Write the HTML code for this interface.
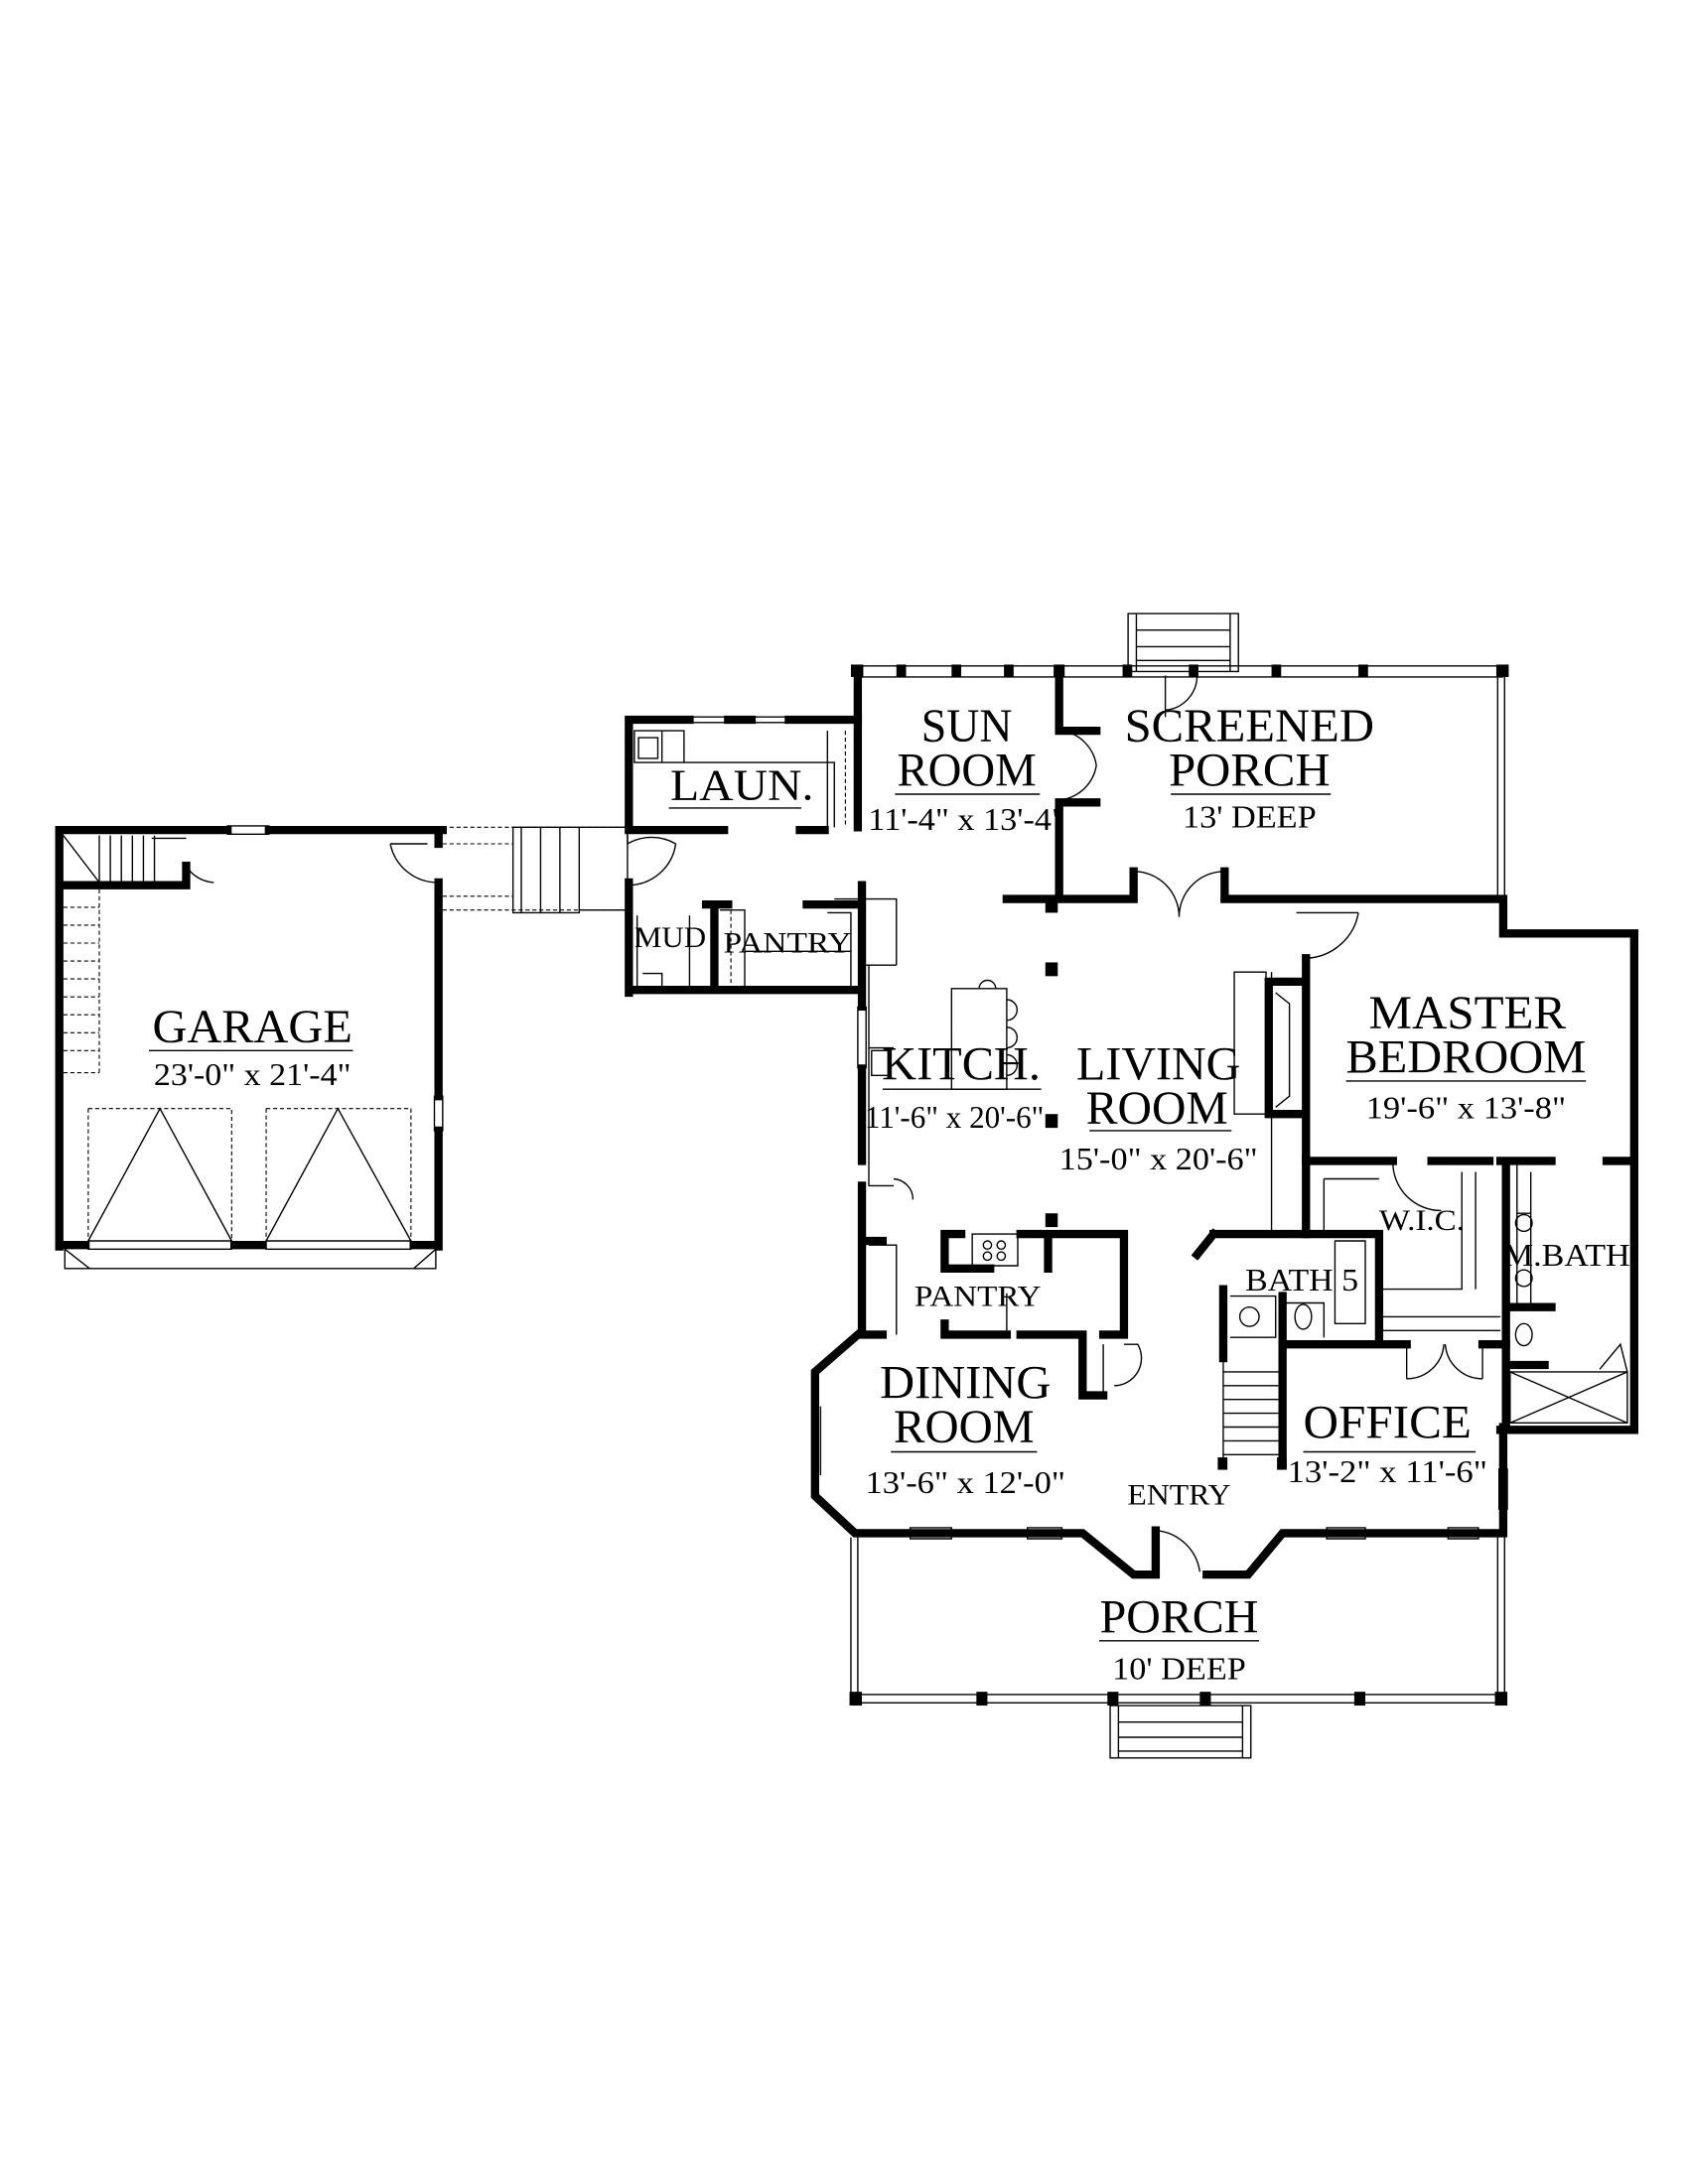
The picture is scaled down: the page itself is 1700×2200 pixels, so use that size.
<!DOCTYPE html>
<html><head><meta charset="utf-8"><style>
html,body{margin:0;padding:0;background:#fff}
svg{display:block}
text{font-family:"Liberation Serif",serif;fill:#000;text-anchor:middle}
.w{stroke:#000;stroke-width:6;fill:none;stroke-linecap:square}
.t{stroke:#000;stroke-width:1;fill:none}
.d{stroke:#000;stroke-width:.8;fill:none;stroke-dasharray:3 2}
.L{font-size:34px}.S{font-size:23px}.X{font-size:21px}
</style></head><body>
<svg width="1700" height="2200" viewBox="0 0 1224 1584" xmlns="http://www.w3.org/2000/svg">
<rect width="1224" height="1584" fill="#fff"/>

<!-- GARAGE -->
<path class="w" d="M43 602 H165 M195 602 H321 M43 602 V904 M43 903 H62 M170 903 H190 M300 903 H318 M318 640 V795 M318 820 V904 M318 602 V612"/>
<path class="t" d="M64 900 H168 V906 H64 Z M193 900 H298 V906 H193 Z M165 599 H195 V605 H165 Z M315 795 H321 V820 H315 Z"/>
<path class="w" d="M46 642 H135 M135 628 V642"/>
<path class="t" d="M46 606 L72 640 M72 606 V640 M80 606 V640 M88 606 V640 M96 606 V640 M104 606 V640 M112 606 V640"/>
<path class="d" d="M72 645 V780 M46 658 H72 M46 671 H72 M46 684 H72 M46 697 H72 M46 710 H72 M46 723 H72 M46 736 H72 M46 749 H72 M46 762 H72 M46 778 H72"/>
<path class="t" d="M135 628 A25 25 0 0 0 155 640 M110 608 H135 M283 612 H310 M283 612 A35 35 0 0 0 318 640"/>
<path class="d" d="M64 804 H168 V900 M64 804 V900 M193 804 H298 V900 M193 804 V900"/>
<path class="t" d="M64 900 L116 804 L168 900 M193 900 L245 804 L298 900 M47 906 L65 920 H300 L316 906 M47 906 V920 H316 V906"/>
<line x1="108" y1="762" x2="256" y2="762" stroke="#000" stroke-width="1"/>
<text x="183" y="756" class="L" textLength="145" lengthAdjust="spacingAndGlyphs">GARAGE</text>
<text x="183" y="787" class="S" textLength="143" lengthAdjust="spacingAndGlyphs">23'-0" x 21'-4"</text>

<!-- BREEZEWAY -->
<path class="d" d="M321 600 H455 M321 612 H372 M321 660 H455 M321 650 H372"/>
<path class="t" d="M372 600 H420 V662 H372 Z M378 600 V662 M392 600 V662 M406 600 V662 M420 600 H455 V660 H420"/>

<!-- LAUNDRY / MUD / PANTRY -->
<path class="w" d="M456 522 V600 M456 522 H500 M528 522 H545 M572 522 H622 M456 602 H525 M580 602 H598 M456 640 V720 M456 718 H622 M512 656 H528 M585 656 H622 M518 656 V718"/>
<path class="t" d="M500 520 H528 V524 H500 Z M545 520 H572 V524 H545 Z M460 530 H480 V553 H460 Z M463 535 H477 V550 H463 Z M480 530 H496 V553 H480 M460 553 H605 V600 M600 530 V600 M455 600 L455 612 M455 612 A35 35 0 0 1 490 612 M490 612 A35 35 0 0 1 455 642 M462 664 V718 H500 V664 M522 660 H540 V718 M540 690 H617 M600 662 H617 V718 M466 706 H480 V716"/>
<path class="d" d="M530 660 V718 M613 530 V600"/>
<line x1="485" y1="586" x2="581" y2="586" stroke="#000" stroke-width="1"/>
<text x="538" y="580" class="L" style="font-size:32px" textLength="104" lengthAdjust="spacingAndGlyphs">LAUN.</text>
<text x="486" y="687" class="X" textLength="52" lengthAdjust="spacingAndGlyphs">MUD</text>
<text x="571" y="691" class="X" textLength="93" lengthAdjust="spacingAndGlyphs">PANTRY</text>

<!-- TOP STAIRS -->
<path class="t" d="M818 445 H898 V487 H818 Z M824 445 V487 M892 445 V487 M824 457 H892 M824 469 H892 M824 479 H892"/>

<!-- SUN ROOM / SCREENED PORCH -->
<path class="t" d="M620 483 H1090 M620 491 H1090 M1086 491 V652 M1091 491 V652"/>
<path class="w" d="M622 485 V600 M768 488 V530 H795 M768 582 H795 M768 582 V650 M730 652 H822 M822 652 V632 M888 652 V632 M888 652 H1090 M1090 652 V677 H1185 V1035 M947 695 V840 M947 842 H1010 M1038 842 H1080"/>
<g fill="#000">
<rect x="617" y="482" width="9" height="9"/><rect x="650" y="482" width="7" height="9"/><rect x="690" y="482" width="7" height="9"/><rect x="728" y="482" width="7" height="9"/><rect x="764" y="482" width="8" height="9"/><rect x="814" y="482" width="7" height="9"/><rect x="862" y="482" width="7" height="9"/><rect x="922" y="482" width="7" height="9"/><rect x="985" y="482" width="7" height="9"/><rect x="1085" y="482" width="9" height="9"/>
<rect x="758" y="651" width="9" height="11"/><rect x="758" y="698" width="9" height="10"/><rect x="758" y="808" width="9" height="10"/><rect x="758" y="880" width="9" height="10"/>
</g>
<path class="t" d="M770 530 A30 30 0 0 1 795 555 M795 555 A30 30 0 0 1 770 580 M822 632 A33 33 0 0 1 855 665 M888 632 A33 33 0 0 0 855 665 M868 490 A25 25 0 0 1 845 515 M845 490 V520 M940 662 H985 M985 662 A40 40 0 0 1 947 695"/>
<path class="t" d="M785 650 H815 V654 H785 M895 650 H928 V654 H895 M1010 650 H1040 V654 H1010"/>
<line x1="649" y1="576" x2="754" y2="576" stroke="#000" stroke-width="1"/>
<line x1="849" y1="576" x2="965" y2="576" stroke="#000" stroke-width="1"/>
<text x="701" y="538" class="L" textLength="66" lengthAdjust="spacingAndGlyphs">SUN</text>
<text x="701" y="570" class="L" textLength="101" lengthAdjust="spacingAndGlyphs">ROOM</text>
<text x="701" y="602" class="S" textLength="143" lengthAdjust="spacingAndGlyphs">11'-4" x 13'-4"</text>
<text x="906" y="538" class="L" textLength="181" lengthAdjust="spacingAndGlyphs">SCREENED</text>
<text x="906" y="570" class="L" textLength="117" lengthAdjust="spacingAndGlyphs">PORCH</text>
<text x="906" y="600" class="S" textLength="97" lengthAdjust="spacingAndGlyphs">13' DEEP</text>

<!-- KITCHEN -->
<path class="w" d="M625 642 V730 M625 775 V842 M625 860 V968 M625 900 H640 M625 968 H640"/>
<path class="t" d="M605 652 H650 V700 M628 700 H650 M628 730 V775 M622 730 V775 M630 700 V860 H648 M630 760 H648 M630 790 V860 M648 855 A15 15 0 0 1 662 870 M630 903 H650 V968"/>
<path class="t" d="M690 717 H730 V790 H690 Z M710 717 A6 6 0 0 1 722 717 M730 725 A6 6 0 0 1 730 740 M730 745 A6 6 0 0 1 730 760 M730 765 A6 6 0 0 1 730 780 M632 762 H645 V780 H632 Z"/>
<line x1="640" y1="790" x2="755" y2="790" stroke="#000" stroke-width="1"/>
<text x="697" y="783" class="L" textLength="115" lengthAdjust="spacingAndGlyphs">KITCH.</text>
<text x="692" y="818" class="S" textLength="130" lengthAdjust="spacingAndGlyphs">11'-6" x 20'-6"</text>

<!-- LIVING -->
<path class="t" d="M895 705 H918 V808 H895 Z M922 705 V895"/>
<path class="w" d="M920 712 H945 M920 712 V808 H945"/>
<path class="t" d="M925 720 L935 728 V795 L925 803"/>
<line x1="790" y1="820" x2="893" y2="820" stroke="#000" stroke-width="1"/>
<text x="840" y="783" class="L" textLength="119" lengthAdjust="spacingAndGlyphs">LIVING</text>
<text x="839" y="815" class="L" textLength="103" lengthAdjust="spacingAndGlyphs">ROOM</text>
<text x="840" y="848" class="S" textLength="144" lengthAdjust="spacingAndGlyphs">15'-0" x 20'-6"</text>

<!-- MASTER -->
<path class="t" d="M1183 690 V740 M1187 690 V740 M1183 805 V840 M1187 805 V840 M1183 900 V950 M1187 900 V950 M1100 675 H1120 V679 H1100"/>
<line x1="976" y1="784" x2="1150" y2="784" stroke="#000" stroke-width="1"/>
<text x="1064" y="746" class="L" textLength="143" lengthAdjust="spacingAndGlyphs">MASTER</text>
<text x="1063" y="778" class="L" textLength="174" lengthAdjust="spacingAndGlyphs">BEDROOM</text>
<text x="1063" y="811" class="S" textLength="145" lengthAdjust="spacingAndGlyphs">19'-6" x 13'-8"</text>

<!-- WIC / MBATH -->
<path class="w" d="M947 840 V895 M1088 842 H1125 M1092 842 V1035 M1092 948 H1125 M1092 990 H1120 M1088 1037 H1185 M1165 842 H1185"/>
<path class="t" d="M1010 842 A35 35 0 0 0 1045 878 M1060 850 V935 H1000 M1070 850 V935 M960 855 H1000 M960 855 V895 M1100 845 V948 M1110 850 V948 M1100 880 H1110"/>
<circle cx="1105" cy="887" r="6" class="t"/><circle cx="1105" cy="927" r="6" class="t"/>
<ellipse cx="1105" cy="968" rx="6" ry="8" class="t"/>
<path class="t" d="M1095 995 H1180 V1032 H1095 Z M1095 995 L1180 1032 M1180 995 L1095 1032 M1160 993 L1175 975 L1180 995"/>
<text x="1031" y="892" class="X" textLength="62" lengthAdjust="spacingAndGlyphs">W.I.C.</text>
<text x="1136" y="918" class="X" style="font-size:23px" textLength="92" lengthAdjust="spacingAndGlyphs">M.BATH</text>

<!-- BATH 5 / STAIRS / OFFICE -->
<path class="w" d="M880 895 H1000 M1000 895 V975 M880 895 L868 910 M887 935 V985 M930 940 V1062 M930 975 H1020 M1075 975 H1092"/>
<path class="t" d="M968 900 H990 V960 H968 Z M892 940 H925 V970 H892 M930 945 H960 V970 M1020 975 V1000 M1075 975 V1000 M1020 1000 A27 27 0 0 0 1047 975 M1075 1000 A27 27 0 0 1 1048 975 M1000 955 H1088 M1000 965 H1088"/>
<ellipse cx="906" cy="955" rx="7" ry="7" class="t"/><ellipse cx="945" cy="955" rx="6" ry="9" class="t"/>
<path class="t" d="M887 985 V1065 M928 985 V1065 M887 995 H928 M887 1005 H928 M887 1015 H928 M887 1025 H928 M887 1035 H928 M887 1045 H928 M887 1055 H928"/>
<rect x="883" y="1057" width="7" height="9" fill="#000"/><rect x="926" y="1057" width="7" height="9" fill="#000"/>
<text x="944" y="936" class="X" style="font-size:23px" textLength="82" lengthAdjust="spacingAndGlyphs">BATH 5</text>
<line x1="945" y1="1053" x2="1070" y2="1053" stroke="#000" stroke-width="1"/>
<text x="1006" y="1043" class="L" textLength="122" lengthAdjust="spacingAndGlyphs">OFFICE</text>
<text x="1006" y="1075" class="S" textLength="145" lengthAdjust="spacingAndGlyphs">13'-2" x 11'-6"</text>

<!-- KITCHEN PANTRY -->
<path class="w" d="M685 895 V920 H718 M760 895 V920 M685 895 H697 M740 895 H815 V968 M685 960 V968 H730 M740 968 H785 M785 968 V1012 H800 M800 968 H815"/>
<path class="t" d="M705 895 H738 V918 H705 Z M730 938 V965 M800 975 V1010 M815 975 H825 A20 20 0 0 1 808 1005"/>
<circle cx="716" cy="903" r="3" class="t"/><circle cx="726" cy="903" r="3" class="t"/><circle cx="716" cy="911" r="3" class="t"/><circle cx="726" cy="911" r="3" class="t"/>
<text x="709" y="947" class="X" textLength="92" lengthAdjust="spacingAndGlyphs">PANTRY</text>

<!-- DINING / ENTRY WALLS -->
<path class="w" d="M622 968 L591 995 V1085 L620 1112 H785 L822 1142 H838 V1110 M875 1142 H905 L930 1112 H1090 V1035"/>
<path class="t" d="M660 1108 H690 V1116 H660 Z M745 1108 H770 V1116 H745 Z M962 1108 H990 V1116 H962 Z M1050 1108 H1072 V1116 H1050 Z M838 1110 A35 35 0 0 1 870 1140 M1087 1065 V1095 M1093 1065 V1095 M589 1020 V1070 M595 1020 V1070"/>
<line x1="646" y1="1053" x2="752" y2="1053" stroke="#000" stroke-width="1"/>
<text x="700" y="1014" class="L" textLength="124" lengthAdjust="spacingAndGlyphs">DINING</text>
<text x="699" y="1046" class="L" textLength="102" lengthAdjust="spacingAndGlyphs">ROOM</text>
<text x="700" y="1083" class="S" textLength="145" lengthAdjust="spacingAndGlyphs">13'-6" x 12'-0"</text>
<text x="855" y="1091" class="X" textLength="75" lengthAdjust="spacingAndGlyphs">ENTRY</text>

<!-- FRONT PORCH -->
<path class="t" d="M617 1115 V1232 M622 1115 V1232 M1086 1115 V1232 M1091 1115 V1232 M620 1229 H1090 M620 1235 H1090"/>
<g fill="#000"><rect x="616" y="1227" width="9" height="10"/><rect x="708" y="1227" width="8" height="10"/><rect x="803" y="1227" width="8" height="10"/><rect x="870" y="1227" width="8" height="10"/><rect x="982" y="1227" width="8" height="10"/><rect x="1084" y="1227" width="9" height="10"/></g>
<path class="t" d="M805 1237 H907 V1275 H805 Z M811 1237 V1275 M901 1237 V1275 M811 1249 H901 M811 1260 H901 M811 1270 H901"/>
<line x1="797" y1="1190" x2="913" y2="1190" stroke="#000" stroke-width="1"/>
<text x="855" y="1184" class="L" textLength="115" lengthAdjust="spacingAndGlyphs">PORCH</text>
<text x="855" y="1218" class="S" textLength="97" lengthAdjust="spacingAndGlyphs">10' DEEP</text>
</svg>
</body></html>
